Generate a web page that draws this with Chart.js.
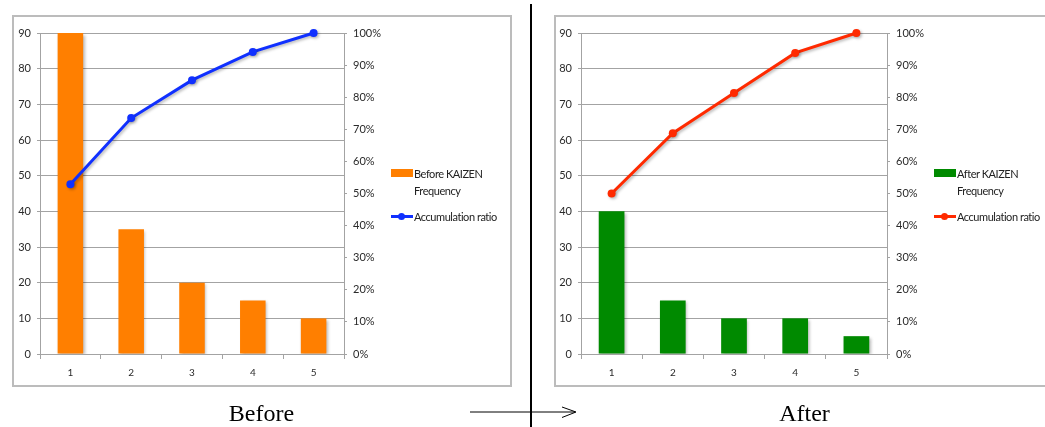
<!DOCTYPE html>
<html>
<head>
<meta charset="utf-8">
<script src="https://cdn.jsdelivr.net/npm/chart.js@4.4.1/dist/chart.umd.min.js"></script>
<style>
  html, body { margin: 0; padding: 0; background: #fff; }
  body { width: 1045px; height: 427px; position: relative; overflow: hidden; font-family: Lato, "Liberation Sans", sans-serif; }
  .panel { position: absolute; top: 15px; width: 500px; height: 372px; }
  .panel canvas { position: absolute; left: 0; top: 0; }
  .frame { position: absolute; left: 0; top: 0; width: 500px; height: 372px; box-sizing: border-box; border: 2px solid #bcbcbc; pointer-events: none; }
  .legend { position: absolute; font-size: 11px; color: #222; line-height: 17px; letter-spacing: -0.45px; }
  .legend .item { position: relative; padding-left: 23px; margin-bottom: 9px; width: 76px; }
  .legend .swatch { position: absolute; left: 0; top: 4px; width: 22px; height: 8px; }
  .legend .ln { position: absolute; left: 0; top: 7px; width: 22px; height: 3px; }
  .legend .dot { position: absolute; left: 7px; top: 5px; width: 7px; height: 7px; border-radius: 50%; }
  svg.overlay { position: absolute; left: 0; top: 0; }
</style>
</head>
<body>

<div class="panel" id="panelBefore" style="left:12px;">
  <canvas id="chartBefore" width="500" height="372"></canvas>
  <div class="frame"></div>
  <div class="legend" id="legendBefore" style="left:379px; top:150px;"></div>
</div>

<div class="panel" id="panelAfter" style="left:554px;">
  <canvas id="chartAfter" width="500" height="372"></canvas>
  <div class="frame"></div>
  <div class="legend" id="legendAfter" style="left:380px; top:150px;"></div>
</div>

<svg class="overlay" width="1045" height="427">
  <line x1="531" y1="4" x2="531" y2="427" stroke="#000" stroke-width="2"/>
  <line x1="470" y1="412" x2="575" y2="412" stroke="#000" stroke-width="1"/>
  <polyline points="562,407 576,412 562,417.5" fill="none" stroke="#000" stroke-width="1"/>
  <text x="261.5" y="421" text-anchor="middle" font-family="'Liberation Serif', 'DejaVu Serif', serif" font-size="24" fill="#000">Before</text>
  <text x="804.5" y="421" text-anchor="middle" font-family="'Liberation Serif', 'DejaVu Serif', serif" font-size="24" fill="#000">After</text>
</svg>

<script>
// Defect categories
const categories = ['1', '2', '3', '4', '5'];

// Frequency per category
const beforeFrequency = [90, 35, 20, 15, 10];
const afterFrequency  = [40, 15, 10, 10, 5];

// Accumulation ratio (%)
const beforeRatio = [52.9, 73.5, 85.3, 94.1, 100];
const afterRatio  = [50.0, 68.8, 81.3, 93.8, 100];

// Axis ticks
const freqTicks  = [0, 10, 20, 30, 40, 50, 60, 70, 80, 90];
const ratioTicks = [0, 10, 20, 30, 40, 50, 60, 70, 80, 90, 100];

const GRID = '#a3a3a3';
const TICK_TEXT = '#2a2a2a';
const FONT = { family: 'Lato, "Liberation Sans", sans-serif', size: 11 };

// Soft drop shadow under bars and lines
const shadowPlugin = {
  id: 'softShadow',
  beforeDatasetDraw(chart) {
    const ctx = chart.ctx;
    ctx.save();
    ctx.shadowColor = 'rgba(0,0,0,0.28)';
    ctx.shadowBlur = 3;
    ctx.shadowOffsetX = 1.5;
    ctx.shadowOffsetY = 1.5;
  },
  afterDatasetDraw(chart) {
    chart.ctx.restore();
  }
};

function buildChart(canvasId, legendId, freq, ratio, barColor, lineColor, freqLabel, plotLeft, plotRight) {
  const W = 500;
  const rightAxisW = 40;
  const chart = new Chart(document.getElementById(canvasId), {
    data: {
      labels: categories,
      datasets: [
        {
          type: 'line',
          label: 'Accumulation ratio',
          data: ratio,
          yAxisID: 'y1',
          borderColor: lineColor,
          backgroundColor: lineColor,
          borderWidth: 3,
          pointRadius: 4,
          pointBackgroundColor: lineColor,
          pointBorderColor: lineColor,
          pointBorderWidth: 0,
          tension: 0,
          clip: 10,
          order: 0
        },
        {
          type: 'bar',
          label: freqLabel,
          data: freq,
          yAxisID: 'y',
          backgroundColor: barColor,
          borderWidth: 0,
          categoryPercentage: 1.0,
          barPercentage: 0.42,
          order: 1
        }
      ]
    },
    options: {
      responsive: false,
      animation: false,
      layout: { padding: { left: 0, top: 18, right: W - plotRight - rightAxisW, bottom: 0 } },
      plugins: { legend: { display: false }, tooltip: { enabled: false } },
      scales: {
        x: {
          offset: true,
          grid: { offset: true, drawOnChartArea: false, drawTicks: true, tickLength: 5, color: GRID },
          border: { color: GRID, width: 1 },
          ticks: { color: TICK_TEXT, font: { family: FONT.family, size: 10 }, padding: 8 },
          afterFit(s) { s.height = 33; }
        },
        y: {
          position: 'left',
          min: 0,
          max: 90,
          afterBuildTicks(s) { s.ticks = freqTicks.map(v => ({ value: v })); },
          grid: { color: GRID, tickLength: 3, lineWidth: 1 },
          border: { color: GRID, width: 1 },
          ticks: { color: TICK_TEXT, font: FONT, padding: 6 },
          afterFit(s) { s.width = plotLeft; }
        },
        y1: {
          position: 'right',
          min: 0,
          max: 100,
          afterBuildTicks(s) { s.ticks = ratioTicks.map(v => ({ value: v })); },
          grid: { drawOnChartArea: false, color: GRID, tickLength: 3 },
          border: { color: GRID, width: 1 },
          ticks: { color: TICK_TEXT, font: FONT, padding: 6, callback: v => v + '%' },
          afterFit(s) { s.width = rightAxisW; }
        }
      }
    },
    plugins: [shadowPlugin]
  });

  // Legend built from the chart's own datasets, bar first then line
  const legend = document.getElementById(legendId);
  const ordered = [chart.data.datasets[1], chart.data.datasets[0]];
  ordered.forEach(ds => {
    const item = document.createElement('div');
    item.className = 'item';
    if (ds.type === 'bar') {
      item.innerHTML = '<span class="swatch" style="background:' + ds.backgroundColor + '"></span>' + ds.label;
    } else {
      item.innerHTML = '<span class="ln" style="background:' + ds.borderColor + '"></span>' +
                       '<span class="dot" style="background:' + ds.borderColor + '"></span>' +
                       '<span style="white-space:nowrap">' + ds.label + '</span>';
    }
    legend.appendChild(item);
  });
  return chart;
}

buildChart('chartBefore', 'legendBefore', beforeFrequency, beforeRatio,
           '#ff7f00', '#1030ff', 'Before KAIZEN Frequency', 28, 332);
buildChart('chartAfter', 'legendAfter', afterFrequency, afterRatio,
           '#008a00', '#ff2a00', 'After KAIZEN Frequency', 27, 333);
</script>
</body>
</html>
